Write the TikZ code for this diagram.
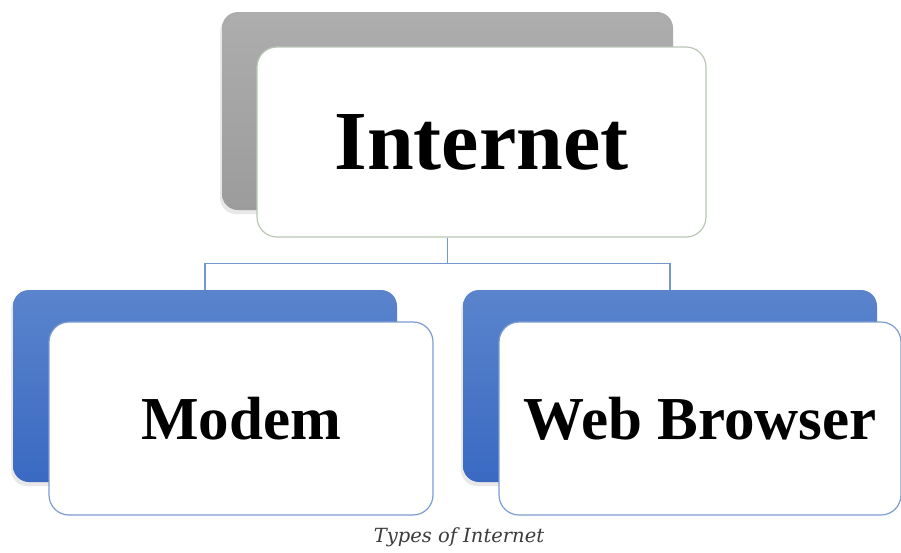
\documentclass[tikz,border=0pt]{standalone}
\usepackage{fontspec}
\setmainfont{Liberation Serif}
\newfontfamily\capfont{DejaVu Serif}
\usetikzlibrary{shadows}
\definecolor{grayA}{HTML}{ADADAD}
\definecolor{grayB}{HTML}{9C9C9C}
\definecolor{blueA}{HTML}{5A84CC}
\definecolor{blueB}{HTML}{3A69C2}
\definecolor{topedge}{HTML}{B9C7B4}
\definecolor{botedge}{HTML}{7C9CD2}
\definecolor{conncol}{HTML}{7497CC}
\definecolor{captcol}{HTML}{3C3C3C}
\tikzset{
  backbox/.style={rounded corners=16pt, inner sep=0pt, draw=none,
    drop shadow={shadow xshift=-2pt, shadow yshift=-4pt, opacity=0.18}},
  graybox/.style={backbox, top color=grayA, bottom color=grayB},
  bluebox/.style={backbox, top color=blueA, bottom color=blueB},
  frontbox/.style={rounded corners=20pt, inner sep=0pt, fill=white, line width=1.2pt},
  conn/.style={draw=conncol, line width=1.2pt},
  bigtxt/.style={font=\fontsize{84}{84}\selectfont\bfseries},
  midtxt/.style={font=\fontsize{61}{61}\selectfont\bfseries},
}
\begin{document}
\begin{tikzpicture}[x=1pt,y=-1pt]
\useasboundingbox[fill=white] (0,0) rectangle (901,552);
\node[graybox, minimum width=451pt, minimum height=198pt] (gb) at (447.5,111) {};
\node[frontbox, draw=topedge, minimum width=449pt, minimum height=190pt, bigtxt] (tf) at (481.5,142) {Internet};
\node[bluebox, minimum width=384pt, minimum height=192pt] (lb) at (205,386) {};
\node[frontbox, draw=botedge, minimum width=384pt, minimum height=193pt, midtxt] (lf) at (241,418.5) {Modem};
\node[bluebox, minimum width=414pt, minimum height=192pt] (rb) at (670,386) {};
\node[frontbox, draw=botedge, minimum width=402pt, minimum height=193pt, midtxt] (rf) at (700,418.5) {Web Browser};
\draw[conn] (gb.south |- tf.south) -- ++(0,26) coordinate (j) -| (lb.north);
\draw[conn] (j) -| (rb.north);
\node[font=\capfont\itshape\fontsize{19.5}{19.5}\selectfont, text=captcol] (cap) at (459,537) {Types of Internet};
\end{tikzpicture}
\end{document}
